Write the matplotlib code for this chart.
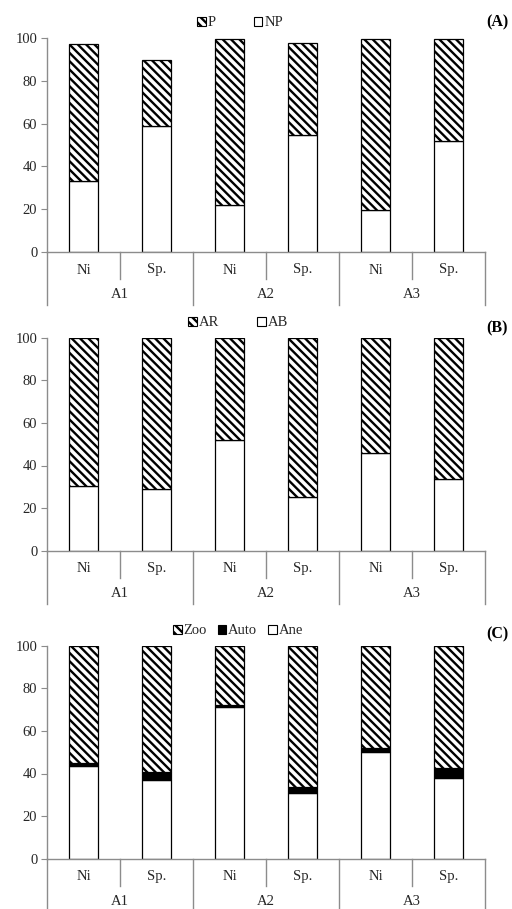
import matplotlib
matplotlib.use("Agg")
import matplotlib.pyplot as plt
from matplotlib.patches import Patch

# =====================================================
# Data
# =====================================================

groups = ["A1", "A2", "A3"]
subs = ["Ni", "Sp."]

# Panel A
np_vals = [33.0, 58.7, 21.8, 54.5, 19.5, 52.0]
p_vals = [64.0, 31.2, 77.6, 43.0, 80.0, 47.4]

# Panel B
ab_vals = [30.5, 29.1, 51.8, 25.0, 46.0, 33.5]
ar_vals = [69.5, 70.9, 48.2, 75.0, 54.0, 66.5]

# Panel C
ane_vals = [43.7, 36.8, 71.4, 31.0, 50.2, 37.7]
auto_vals = [1.1, 3.9, 0.9, 2.5, 1.9, 4.7]
zoo_vals = [55.2, 59.3, 27.7, 66.5, 47.9, 57.6]

# =====================================================
# Style
# =====================================================

plt.rcParams["font.family"] = ["Liberation Serif", "DejaVu Serif"]
plt.rcParams["hatch.linewidth"] = 1.7
plt.rcParams["hatch.color"] = "black"

GRAY = "#8c8c8c"
TXT = "#262626"
FS = 10.5
W, H = 512, 909

fig = plt.figure(figsize=(W / 100, H / 100), dpi=100)


def make_axes(top_px, bottom_px):
    left, right = 47, 485
    return fig.add_axes([left / W, 1 - bottom_px / H,
                         (right - left) / W, (bottom_px - top_px) / H])


def style_axes(ax):
    ax_h = ax.get_position().height * H
    n = len(groups) * len(subs)
    ax.set_xlim(0, n)
    ax.set_ylim(0, 100)
    ax.set_yticks(range(0, 101, 20))
    ax.set_xticks([])
    for s in ["top", "right"]:
        ax.spines[s].set_visible(False)
    for s in ["left", "bottom"]:
        ax.spines[s].set_color(GRAY)
        ax.spines[s].set_linewidth(1.0)
    ax.tick_params(axis="y", length=4, color=GRAY, labelsize=FS,
                   labelcolor=TXT, pad=3)

    tr = ax.get_xaxis_transform()
    short = 27 / ax_h
    long_ = 53 / ax_h
    # separators of the two-level category axis
    for i in range(n + 1):
        depth = long_ if i % len(subs) == 0 else short
        ax.plot([i, i], [0, -depth], transform=tr, color=GRAY,
                lw=1.0, clip_on=False)
    for i in range(n):
        ax.text(i + 0.5, -18 / ax_h, subs[i % len(subs)], transform=tr,
                ha="center", va="center", fontsize=FS, color=TXT)
    for g, name in enumerate(groups):
        ax.text(g * len(subs) + len(subs) / 2, -43 / ax_h, name,
                transform=tr, ha="center", va="center", fontsize=FS,
                color=TXT)


def stack(ax, series, styles):
    x = [i + 0.5 for i in range(len(series[0]))]
    bottom = [0] * len(x)
    for vals, (fc, hatch) in zip(series, styles):
        ax.bar(x, vals, width=0.41, bottom=bottom, color=fc,
               edgecolor="black", hatch=hatch, linewidth=0.9)
        bottom = [b + v for b, v in zip(bottom, vals)]


def legend(labels, styles, x_center, y_px, spacing):
    handles = [Patch(facecolor=fc, edgecolor="black", hatch=h, linewidth=0.8)
               for fc, h in styles]
    leg = fig.legend(handles, labels, loc="center",
                     bbox_to_anchor=(x_center / W, 1 - y_px / H),
                     ncol=len(labels), frameon=False, fontsize=FS,
                     handlelength=0.6, handleheight=0.6, handletextpad=0.12,
                     columnspacing=spacing, borderpad=0)
    for t in leg.get_texts():
        t.set_color(TXT)


HATCH = ("white", "\\\\\\\\")
WHITE = ("white", "")
BLACK = ("black", "")

# Panel A
axA = make_axes(38, 252)
stack(axA, [np_vals, p_vals], [WHITE, HATCH])
style_axes(axA)
legend(["P", "NP"], [HATCH, WHITE], 240, 23, 2.6)
fig.text(497 / W, 1 - 22 / H, "(A)", ha="center", va="center",
         fontsize=11.5, fontweight="bold")

# Panel B
axB = make_axes(337.7, 550.7)
stack(axB, [ab_vals, ar_vals], [WHITE, HATCH])
style_axes(axB)
legend(["AR", "AB"], [HATCH, WHITE], 238, 323, 2.6)
fig.text(497 / W, 1 - 328 / H, "(B)", ha="center", va="center",
         fontsize=11.5, fontweight="bold")

# Panel C
axC = make_axes(645.7, 858.7)
stack(axC, [ane_vals, auto_vals, zoo_vals], [WHITE, BLACK, HATCH])
style_axes(axC)
legend(["Zoo", "Auto", "Ane"], [HATCH, BLACK, WHITE], 238, 631, 0.75)
fig.text(497 / W, 1 - 634 / H, "(C)", ha="center", va="center",
         fontsize=11.5, fontweight="bold")

fig.savefig("out.png", dpi=100)
